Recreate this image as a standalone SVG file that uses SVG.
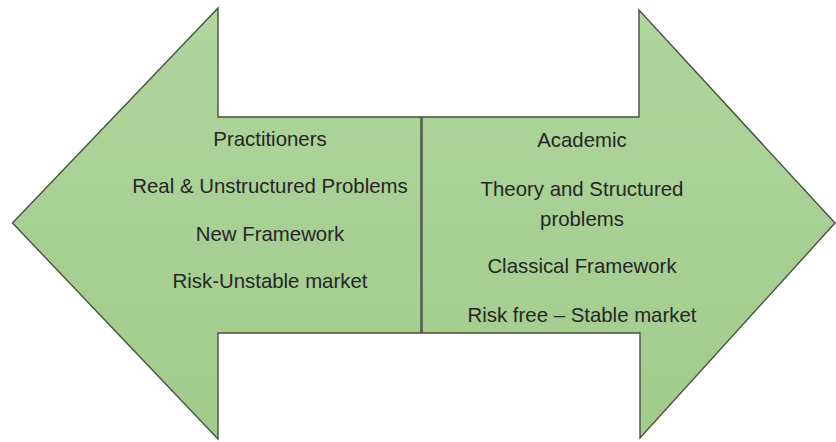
<svg xmlns="http://www.w3.org/2000/svg" width="836" height="442" viewBox="0 0 836 442">
  <defs>
    <linearGradient id="g" x1="0" y1="0" x2="0" y2="1">
      <stop offset="0" stop-color="#b0d59d"/>
      <stop offset="1" stop-color="#a1cb8b"/>
    </linearGradient>
    <style>
      .arrow { fill: url(#g); stroke: #47523f; stroke-width: 1.4; stroke-linejoin: miter; }
      .t { font-family: "Liberation Sans", Arial, sans-serif; font-size: 20.4px; fill: #262626; text-anchor: middle; }
    </style>
  </defs>
  <rect width="836" height="442" fill="#ffffff"/>
  <g id="left-arrow">
    <polygon class="arrow" points="12.5,223 218,8 218,117 421,117 421,333 218,333 218,439"/>
    <text class="t" x="270" y="146">Practitioners</text>
    <text class="t" x="270" y="193">Real &amp; Unstructured Problems</text>
    <text class="t" x="270" y="241">New Framework</text>
    <text class="t" x="270" y="288">Risk-Unstable market</text>
  </g>
  <g id="right-arrow">
    <polygon class="arrow" points="422,117 639,117 639,10 835,223 640,438 640,333 422,333"/>
    <text class="t" x="582" y="147">Academic</text>
    <text class="t" x="582" y="196">Theory and Structured</text>
    <text class="t" x="582" y="226">problems</text>
    <text class="t" x="582" y="273">Classical Framework</text>
    <text class="t" x="582" y="322">Risk free – Stable market</text>
  </g>
  <g id="connectors"/>
</svg>
